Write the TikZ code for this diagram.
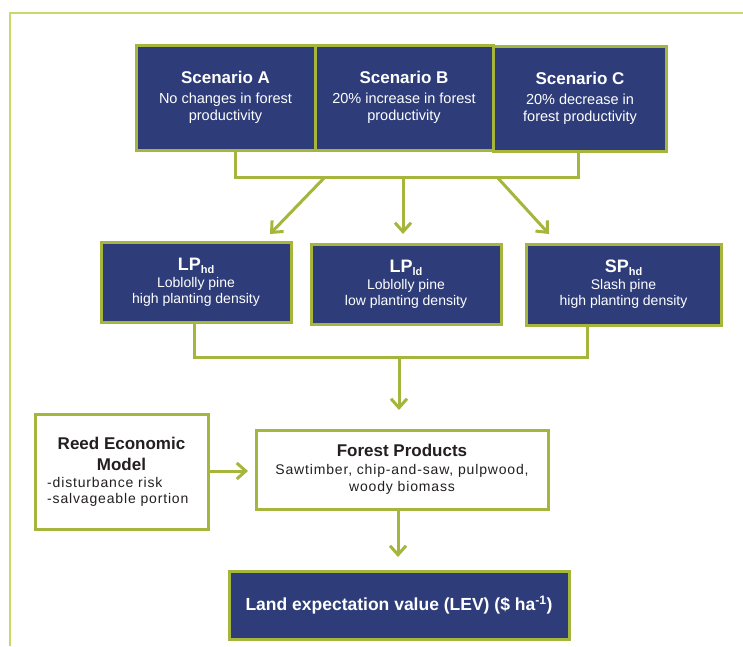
\documentclass[tikz,border=0pt]{standalone}
\usepackage{fontspec}
\setmainfont{Liberation Sans}
\newfontfamily\spaced[LetterSpace=6]{Liberation Sans}
\usetikzlibrary{arrows.meta,shadows}
\definecolor{navy}{HTML}{2E3D7A}
\definecolor{lgreen}{HTML}{A6B63C}
\definecolor{framegreen}{HTML}{C8D96A}
\definecolor{ink}{HTML}{231F20}
\newcommand\ttlA{\fontsize{17}{20}\selectfont\bfseries}
\newcommand\subA{\fontsize{14.5}{17}\selectfont\mdseries}
\newcommand\ttlB{\fontsize{18}{20}\selectfont\bfseries}
\newcommand\subB{\fontsize{14}{16}\selectfont\mdseries}
\newcommand\ttlC{\fontsize{17}{20}\selectfont\bfseries}
\newcommand\subC{\fontsize{14}{17}\selectfont\spaced}
\newcommand\sbx[1]{\raisebox{-3pt}{\fontsize{11}{12}\selectfont\bfseries #1}}
\begin{document}
\begin{tikzpicture}[x=1pt,y=-1pt,
  shad/.style={drop shadow={opacity=0.12,shadow xshift=1.5pt,shadow yshift=-2pt}},
  darkbox/.style={shad,draw=lgreen,line width=3pt,fill=navy,text=white,align=center,inner sep=2pt},
  whitebox/.style={shad,draw=lgreen,line width=3pt,fill=white,text=ink,align=center,inner sep=2pt},
  conn/.style={draw=lgreen,line width=3pt},
  arr/.style={draw=lgreen,line width=3pt,-{Straight Barb[length=9pt,width=16pt]}},
]
\useasboundingbox (0,0) rectangle (743,646);
\fill[white] (0,0) rectangle (743,646);
% frame
\draw[framegreen,line width=1.5pt] (10,646) -- (10,13) -- (743,13);

% scenario boxes
\tikzset{scen/.style={darkbox,minimum height=105pt,font=\fontsize{14.5}{17}\selectfont}}
\node[scen,minimum width=179pt] (sa) at (225.5,97.5)
  {\ttlA Scenario A\\[3pt]\subA No changes in forest\\\subA productivity};
\node[scen,minimum width=178pt] (sb) at (404,97.5)
  {\ttlA Scenario B\\[3pt]\subA 20\% increase in forest\\\subA productivity};
\node[scen,minimum width=173pt] (sc) at (580,98.5)
  {\ttlA Scenario C\\[3pt]\subA 20\% decrease in\\\subA forest productivity};

% species boxes
\tikzset{spec/.style={darkbox,minimum height=80pt,font=\fontsize{14}{16}\selectfont}}
\node[spec,minimum width=190pt] (lphd) at (196,282)
  {\ttlB LP\sbx{hd}\\[1pt]\subB Loblolly pine\\\subB high planting density};
\node[spec,minimum width=190pt] (lpld) at (406,284)
  {\ttlB LP\sbx{ld}\\[1pt]\subB Loblolly pine\\\subB low planting density};
\node[spec,minimum width=195pt,minimum height=81pt] (sphd) at (623.5,284.5)
  {\ttlB SP\sbx{hd}\\[1pt]\subB Slash pine\\\subB high planting density};

% model boxes
\node[whitebox,minimum width=173pt,minimum height=115pt] (reed) at (121.5,471.5) {};
\node[text=ink,align=center,font=\fontsize{17}{21}\selectfont\bfseries,inner sep=0pt]
  (reedt) at (121.5,454) {Reed Economic\\Model};
\node[text=ink,align=left,anchor=west,font=\fontsize{14}{16}\selectfont\spaced,inner sep=0pt]
  (reedl) at (47,492) {-disturbance risk\\-salvageable portion};

\node[whitebox,minimum width=292pt,minimum height=79pt,font=\fontsize{14}{17}\selectfont] (fp) at (402,469.5)
  {\ttlC Forest Products\\[1pt]\subC Sawtimber, chip-and-saw, pulpwood,\\\subC woody biomass};
\node[darkbox,minimum width=340pt,minimum height=68pt] (lev) at (399,605)
  {\fontsize{17.5}{20}\selectfont\bfseries Land expectation value (LEV) (\$ ha\textsuperscript{-1})};

% bracket 1
\coordinate (b1l) at (235,177);
\coordinate (b1r) at (578,177);
\draw[conn] (b1l |- sa.south) -- (b1l) -- (b1r) -- (b1r |- sc.south);
\coordinate (s1) at (325,177);
\coordinate (s2) at (403,177);
\coordinate (s3) at (497,177);
\coordinate (e1) at (270,234);
\coordinate (e2) at (403,234);
\coordinate (e3) at (549,234);
\draw[arr] (s1) -- (e1);
\draw[arr] (s2) -- (e2);
\draw[arr] (s3) -- (e3);

% bracket 2
\coordinate (b2l) at (194,357);
\coordinate (b2r) at (587,357);
\draw[conn] (b2l |- lphd.south) -- (b2l) -- (b2r) -- (b2r |- sphd.south);
\coordinate (s4) at (399,357);
\coordinate (e4) at (399,410);
\draw[arr] (s4) -- (e4);

% reed -> fp
\coordinate (e5) at (248,471);
\draw[arr] (reed.east |- e5) -- (e5);

% fp -> lev
\coordinate (e6) at (398,557);
\draw[arr] (fp.south -| e6) -- (e6);
\end{tikzpicture}
\end{document}
